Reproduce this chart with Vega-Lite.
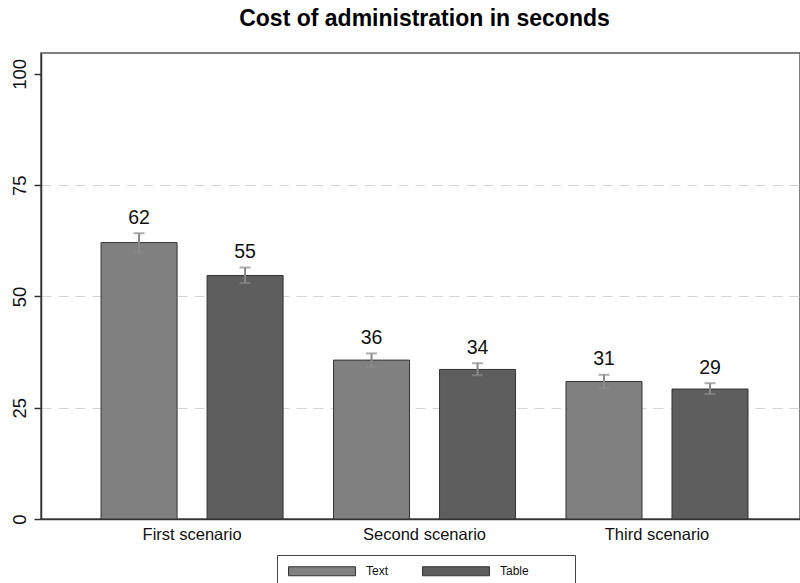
{
  "$schema": "https://vega.github.io/schema/vega-lite/v6.json",
  "autosize": {"type": "none"},
  "padding": {"left": 41, "top": 53, "right": 0, "bottom": 64},
  "width": 759,
  "height": 466,
  "background": "white",
  "title": {
    "text": "Cost of administration in seconds",
    "fontSize": 23,
    "fontWeight": "bold",
    "font": "Liberation Sans",
    "color": "#000000",
    "anchor": "middle",
    "baseline": "alphabetic",
    "offset": 4,
    "dx": 4
  },
  "config": {
    "font": "Liberation Sans",
    "view": {"stroke": "#555555", "strokeWidth": 1.5}
  },
  "data": {
    "values": [
      {"scenario": "First scenario", "type": "Text", "mean": 62.1, "lower": 60.0, "upper": 64.2},
      {"scenario": "First scenario", "type": "Table", "mean": 54.7, "lower": 53.0, "upper": 56.5},
      {"scenario": "Second scenario", "type": "Text", "mean": 35.7, "lower": 34.2, "upper": 37.2},
      {"scenario": "Second scenario", "type": "Table", "mean": 33.6, "lower": 32.3, "upper": 35.0},
      {"scenario": "Third scenario", "type": "Text", "mean": 30.9, "lower": 29.4, "upper": 32.4},
      {"scenario": "Third scenario", "type": "Table", "mean": 29.2, "lower": 28.1, "upper": 30.5}
    ]
  },
  "encoding": {
    "x": {
      "field": "scenario",
      "type": "nominal",
      "sort": ["First scenario", "Second scenario", "Third scenario"],
      "scale": {"paddingInner": 0.217, "paddingOuter": 0.241, "align": 0.536},
      "axis": {
        "title": null,
        "labelAngle": 0,
        "labelFontSize": 16.5,
        "labelColor": "#111111",
        "ticks": false,
        "tickSize": 0,
        "labelPadding": 7,
        "domainColor": "#333333",
        "domainWidth": 1.5
      }
    },
    "xOffset": {
      "field": "type",
      "type": "nominal",
      "sort": ["Text", "Table"],
      "scale": {"paddingInner": 0.283, "paddingOuter": 0}
    }
  },
  "layer": [
    {
      "mark": {"type": "bar", "stroke": "#333333", "strokeWidth": 1},
      "encoding": {
        "y": {
          "field": "mean",
          "type": "quantitative",
          "scale": {"domain": [0, 104.7], "nice": false, "zero": true},
          "axis": {
            "title": null,
            "values": [0, 25, 50, 75, 100],
            "labelAngle": 270,
            "labelFontSize": 18.5,
            "labelColor": "#111111",
            "labelPadding": 5,
            "tickSize": 7,
            "tickColor": "#333333",
            "tickWidth": 1.5,
            "domainColor": "#333333",
            "domainWidth": 1.5,
            "grid": true,
            "gridColor": "#d4d4d4",
            "gridDash": [10, 7],
            "gridWidth": 1.2,
            "gridOpacity": {"condition": {"test": "datum.value == 0 || datum.value == 100", "value": 0}, "value": 1}
          }
        },
        "color": {
          "field": "type",
          "type": "nominal",
          "sort": ["Text", "Table"],
          "scale": {"domain": ["Text", "Table"], "range": ["#808080", "#5e5e5e"]},
          "legend": {
            "title": null,
            "orient": "none",
            "legendX": 236,
            "legendY": 502,
            "direction": "horizontal",
            "symbolType": "M-7.44,-1L7.44,-1L7.44,1L-7.44,1Z",
            "symbolSize": 81,
            "symbolOffset": 29,
            "symbolStrokeColor": "#333333",
            "symbolStrokeWidth": 1,
            "symbolOpacity": 1,
            "labelFontSize": 12,
            "labelColor": "#111111",
            "labelOffset": 38,
            "columnPadding": 31,
            "padding": 10,
            "strokeColor": "#444444",
            "fillColor": "white",
            "labelExpr": "datum.label == 'Table' ? 'Table\u2800\u2800\u2800\u2800' : datum.label"
          }
        }
      }
    },
    {
      "mark": {"type": "rule", "color": "#8a8a8a", "strokeWidth": 2},
      "encoding": {
        "y": {"field": "lower", "type": "quantitative"},
        "y2": {"field": "upper"}
      }
    },
    {
      "mark": {"type": "tick", "color": "#8a8a8a", "thickness": 2, "size": 11},
      "encoding": {"y": {"field": "upper", "type": "quantitative"}}
    },
    {
      "mark": {"type": "tick", "color": "#8a8a8a", "thickness": 2, "size": 11},
      "encoding": {"y": {"field": "lower", "type": "quantitative"}}
    },
    {
      "mark": {"type": "text", "baseline": "alphabetic", "dy": -9.5, "fontSize": 19.5, "color": "#111111"},
      "encoding": {
        "y": {"field": "upper", "type": "quantitative"},
        "text": {"field": "mean", "type": "quantitative", "format": ".0f"}
      }
    }
  ]
}
